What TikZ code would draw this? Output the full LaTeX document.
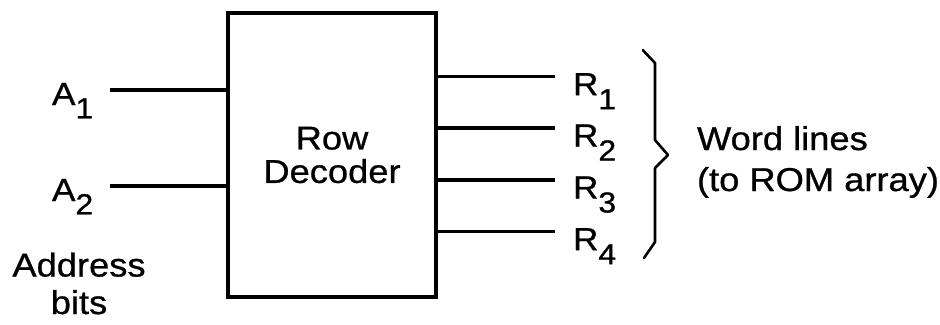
\documentclass[tikz,border=0pt]{standalone}
\usepackage{fontspec}
\setmainfont[FakeStretch=1.1,FakeBold=0.8]{Liberation Sans}
\usepackage{tikz}
\newcommand{\lowsub}[2]{\raisebox{-#1}{\fontsize{29bp}{29bp}\selectfont #2}}
\tikzset{
  wire/.style={line width=3.5bp},
  lbl/.style={anchor=base west,inner sep=0pt,outer sep=0pt},
}
\begin{document}
\begin{tikzpicture}[x=1bp,y=-1bp,inner sep=0pt,outer sep=0pt]
  \useasboundingbox (0,0) rectangle (940,324);
  \fontsize{32bp}{33.4bp}\selectfont
  % decoder block
  \node[draw,line width=3.8bp,minimum width=208bp,minimum height=284bp,align=center,
    font=\fontsize{33bp}{33.4bp}\selectfont] (dec) at (332,155) {Row\\Decoder};
  % address inputs
  \coordinate (a1end) at (110,90);
  \coordinate (a2end) at (110,186);
  \draw[wire] (a1end) -- (dec.west |- a1end);
  \draw[wire] (a2end) -- (dec.west |- a2end);
  \node[lbl] (a1) at (52,105) {A\lowsub{13.3bp}{1}};
  \node[lbl] (a2) at (52,201) {A\lowsub{13.3bp}{2}};
  \node[anchor=base,align=center,font=\fontsize{33bp}{37.5bp}\selectfont] (addr) at (79,314) {Address\\bits};
  % word line outputs
  \foreach \i/\y in {1/76.7,2/128,3/180,4/231.7}{
    \coordinate (r\i end) at (555,\y);
    \draw[line width=3.2bp] (dec.east |- r\i end) -- (r\i end);
    \node[lbl] (r\i) at (573,\y+18.5) {R\lowsub{14bp}{\i}};
  }
  % brace
  \draw[line width=2.6bp,line join=round,line cap=round] (642.7,50) -- (655,63) -- (655,140) -- (668,155)
    -- (655,168) -- (655,242) -- (644,258);
  \node[anchor=base west,align=left,font=\fontsize{33bp}{41bp}\selectfont] (words) at (697,191) {Word lines\\(to ROM array)};
\end{tikzpicture}
\end{document}
